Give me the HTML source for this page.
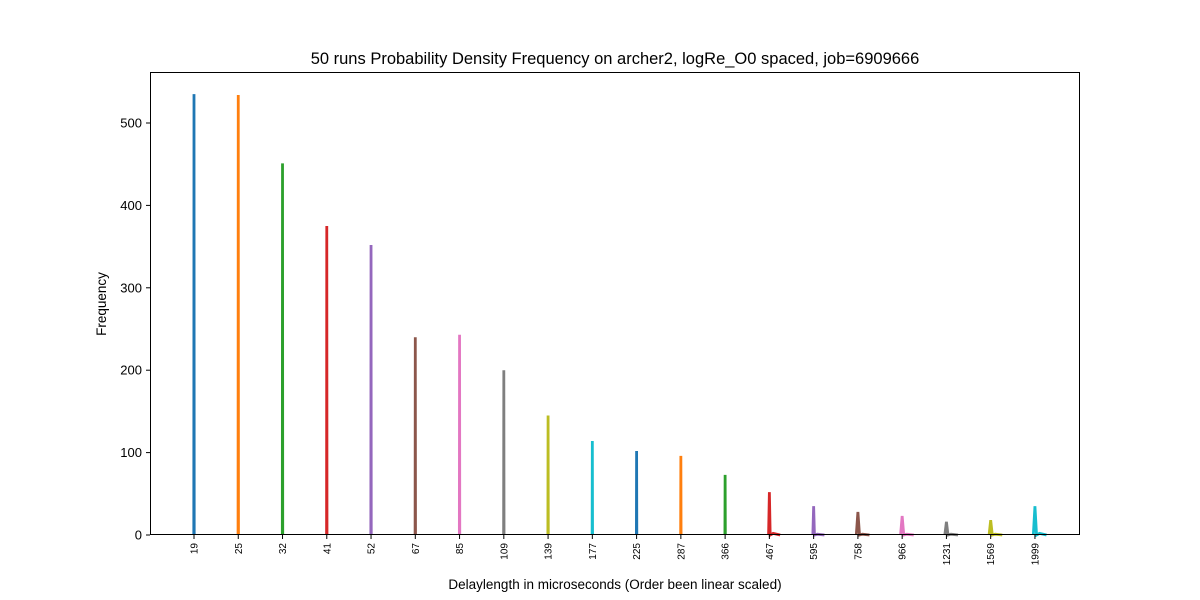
<!DOCTYPE html>
<html><head><meta charset="utf-8"><style>
body{margin:0;background:#fff;}
svg{display:block;font-family:"Liberation Sans","DejaVu Sans",sans-serif;}
</style></head><body>
<svg id="chart" width="1200" height="600" viewBox="0 0 1200 600">
<text x="615" y="64" text-anchor="middle" font-size="16.5">50 runs Probability Density Frequency on archer2, logRe_O0 spaced, job=6909666</text>
<text transform="translate(106,304) rotate(-90)" text-anchor="middle" font-size="13.5">Frequency</text>
<text x="615" y="589" text-anchor="middle" font-size="13.5">Delaylength in microseconds (Order been linear scaled)</text>
<g id="marks"></g>
<g id="axes"></g>
<rect x="150.5" y="72.5" width="929" height="462" fill="none" stroke="#000" stroke-width="1"/>
</svg>
<script>
const categories=["19","25","32","41","52","67","85","109","139","177","225","287","366","467","595","758","966","1231","1569","1999"];
const peaks=[535,534,451,375,352,240,243,200,145,114,102,96,73,52,35,28,23,16,18,35];
const tails=[0,0,0,0,0,0,0,0,0,0,0,0,0,2,1,1,1,1,1,2];
const yTicks=[0,100,200,300,400,500];
const colors=["#1f77b4","#ff7f0e","#2ca02c","#d62728","#9467bd","#8c564b","#e377c2","#7f7f7f","#bcbd22","#17becf"];
const X0=194,DX=44.26,Y0=535,YS=412/500;
const xAt=i=>X0+i*DX;
const yAt=v=>Y0-v*YS;
const ns="http://www.w3.org/2000/svg";
const marks=document.getElementById('marks'),axes=document.getElementById('axes');
categories.forEach((c,i)=>{
  const x=xAt(i),hw=i<13?0.2:(i<15?0.8:1.6);
  const pts=[[x-hw,yAt(0)],[x,yAt(peaks[i])],[x+hw,yAt(0)]];
  if(tails[i]>0){pts.push([x+hw+3,yAt(tails[i])]);pts.push([x+hw+10,yAt(0)]);}
  const p=document.createElementNS(ns,'polyline');
  
  
  p.setAttribute('points',pts.map(q=>q.join(',')).join(' '));
  p.setAttribute('fill','none');p.setAttribute('stroke',colors[i%10]);p.setAttribute('stroke-width','2.8');
  marks.appendChild(p);
  const t=document.createElementNS(ns,'line');
  
  
  t.setAttribute('x1',x);t.setAttribute('x2',x);t.setAttribute('y1',535);t.setAttribute('y2',539);t.setAttribute('stroke','#000');
  axes.appendChild(t);
  const l=document.createElementNS(ns,'text');
  
  
  l.setAttribute('transform','translate('+(x+3.5)+',543) rotate(-90)');
  l.setAttribute('text-anchor','end');l.setAttribute('font-size','10');
  l.textContent=c;axes.appendChild(l);
});
yTicks.forEach(v=>{
  const y=yAt(v);
  const t=document.createElementNS(ns,'line');
  
  
  t.setAttribute('x1',146);t.setAttribute('x2',150);t.setAttribute('y1',y);t.setAttribute('y2',y);t.setAttribute('stroke','#000');
  axes.appendChild(t);
  const l=document.createElementNS(ns,'text');
  
  
  l.setAttribute('x',142);l.setAttribute('y',y+4.5);l.setAttribute('text-anchor','end');l.setAttribute('font-size','13');
  l.textContent=v;axes.appendChild(l);
});
</script>
</body></html>
